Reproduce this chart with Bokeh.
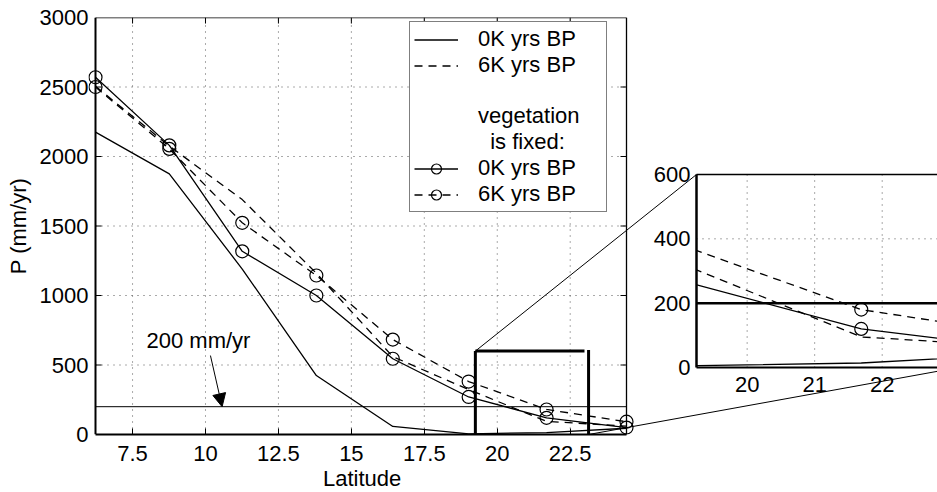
import numpy as np
from bokeh.plotting import figure
from bokeh.models import (Range1d, LinearAxis, FixedTicker, Legend, LegendItem,
                          Arrow, NormalHead, Label, Title)
from bokeh.core.properties import value
from bokeh.embed import file_html
from bokeh.resources import INLINE

# ---------------- data ----------------
lat = [6.23, 8.76, 11.26, 13.80, 16.42, 19.02, 21.69, 24.43]
p_0k = [2175, 1875, 1190, 424, 58, 5, 14, 45]
p_6k = [2505, 2075, 1690, 1160, 560, 323, 95, 60]
p_0k_fixed = [2570, 2080, 1318, 1000, 545, 270, 120, 50]
p_6k_fixed = [2500, 2055, 1523, 1144, 683, 381, 180, 92]
threshold = 200

x_ticks = [7.5, 10, 12.5, 15, 17.5, 20, 22.5]
x_tick_labels = ["7.5", "10", "12.5", "15", "17.5", "20", "22.5"]
y_ticks = [0, 500, 1000, 1500, 2000, 2500, 3000]

zoom_x = (19.25, 23.13)
zoom_y = (0, 600)
inset_x_ticks = [20, 21, 22]
inset_x_labels = ["20", "21", "22"]
inset_y_ticks = [0, 200, 400, 600]
inset_y_labels = ["0", "200", "400", "600"]

# ---------------- layout (pixels) ----------------
FRAME_L, FRAME_R, FRAME_T, FRAME_B = 88, 937, 17, 434
MAIN_L, MAIN_R = 95, 626
INS_L, INS_R, INS_T, INS_B = 696, 958, 174, 367
FONT = value("Liberation Sans")
FS = "22px"

sx = (MAIN_R - MAIN_L) / (lat[-1] - lat[0])
x_start = lat[0] - (MAIN_L - FRAME_L) / sx
x_end = lat[0] + (FRAME_R - MAIN_L) / sx
ymax = y_ticks[-1]
sy = (FRAME_B - FRAME_T) / ymax

isx = (INS_R - INS_L) / (zoom_x[1] - zoom_x[0])
ix_start = zoom_x[0] - (INS_L - FRAME_L) / isx
ix_end = zoom_x[0] + (FRAME_R - INS_L) / isx
isy = (INS_B - INS_T) / (zoom_y[1] - zoom_y[0])
iy_start = zoom_y[0] - (FRAME_B - INS_B) / isy
iy_end = zoom_y[1] + (INS_T - FRAME_T) / isy

p = figure(frame_width=FRAME_R - FRAME_L, frame_height=FRAME_B - FRAME_T,
           x_range=Range1d(x_start, x_end), y_range=Range1d(0, ymax),
           x_axis_type=None, y_axis_type=None,
           output_backend="svg", toolbar_location=None,
           min_border_left=FRAME_L, min_border_right=0,
           min_border_top=FRAME_T, min_border_bottom=0)
p.outline_line_color = None
p.background_fill_color = "white"
p.border_fill_color = "white"
p.grid.visible = False
p.extra_x_ranges = {"inset": Range1d(ix_start, ix_end)}
p.extra_y_ranges = {"inset": Range1d(iy_start, iy_end)}
INS = dict(x_range_name="inset", y_range_name="inset")

# ---------------- axes ----------------
yaxis = LinearAxis(ticker=FixedTicker(ticks=y_ticks), axis_label="P (mm/yr)")
xaxis = LinearAxis(ticker=FixedTicker(ticks=x_ticks), bounds=(lat[0], lat[-1]),
                   major_label_overrides={t: l for t, l in zip(x_ticks, x_tick_labels)})
for ax in (yaxis, xaxis):
    ax.axis_line_width = 2
    ax.axis_line_color = "black"
    ax.major_tick_in = 6
    ax.major_tick_out = 0
    ax.minor_tick_line_color = None
    ax.major_tick_line_color = "black"
    ax.major_label_text_font = "Liberation Sans"
    ax.major_label_text_font_size = FS
    ax.major_label_text_color = "black"
    ax.axis_label_text_font = "Liberation Sans"
    ax.axis_label_text_font_size = FS
    ax.axis_label_text_font_style = "normal"
    ax.axis_label_text_color = "black"
# y axis panel only carries the labels; its rule is drawn at lat[0]
yaxis.axis_line_color = None
yaxis.major_tick_line_color = None
yaxis.major_tick_in = 0
yaxis.major_label_standoff = 0
yaxis.axis_label_standoff = 6
xaxis.major_label_standoff = 11
p.add_layout(yaxis, "left")
p.add_layout(xaxis, "below")

# x axis title, centred under the main axes (not under the whole frame)
title_w = 76
p.add_layout(Title(text="Latitude", align="left",
                   offset=(MAIN_L + MAIN_R) / 2 - FRAME_L - title_w / 2,
                   text_font="Liberation Sans", text_font_size=FS,
                   text_font_style="normal", text_color="black",
                   standoff=1), "below")

GRID = dict(line_color="#555555", line_width=1, line_dash="1 5")
# main grid
p.segment(x0=x_ticks, y0=0, x1=x_ticks, y1=ymax, **GRID)
p.segment(x0=lat[0], y0=y_ticks[1:-1], x1=lat[-1], y1=y_ticks[1:-1], **GRID)
# main box + inner ticks
p.segment(x0=lat[0], y0=0, x1=lat[0], y1=ymax, line_color="black", line_width=2)
p.segment(x0=lat[0], y0=ymax, x1=lat[-1], y1=ymax, line_color="black", line_width=1.3)
p.segment(x0=lat[-1], y0=0, x1=lat[-1], y1=ymax, line_color="black", line_width=1.3)
p.ray(x=lat[0], y=y_ticks[1:-1], length=6, length_units="screen", angle=0,
      line_color="black", line_width=1)
p.ray(x=lat[-1], y=y_ticks[1:-1], length=6, length_units="screen", angle=np.pi,
      line_color="black", line_width=1)
p.ray(x=x_ticks, y=ymax, length=6, length_units="screen", angle=-np.pi / 2,
      line_color="black", line_width=1)

# threshold line
p.line([lat[0], lat[-1]], [threshold, threshold], line_color="black", line_width=1)

LW = 1.3
DASH = "8 6"
CIRC = dict(marker="circle", size=13, fill_color=None, line_color="black", line_width=1.2)
rA = p.line(lat, p_0k, line_color="black", line_width=LW)
rB = p.line(lat, p_6k, line_color="black", line_width=LW, line_dash=DASH)
rC = p.line(lat, p_0k_fixed, line_color="black", line_width=LW)
sC = p.scatter(lat, p_0k_fixed, **CIRC)
rD = p.line(lat, p_6k_fixed, line_color="black", line_width=LW, line_dash=DASH)
sD = p.scatter(lat, p_6k_fixed, **CIRC)

# annotation 200 mm/yr
p.add_layout(Label(x=9.76, y=676, text="200 mm/yr", text_align="center",
                   text_baseline="middle", text_font="Liberation Sans",
                   text_font_size=FS, text_color="black"))
p.add_layout(Arrow(x_start=10.17, y_start=568, x_end=10.57, y_end=threshold,
                   line_width=1, line_color="black",
                   end=NormalHead(size=13, fill_color="black", line_color="black")))

# zoom rectangle in main
p.segment(x0=[zoom_x[0], zoom_x[0], zoom_x[1]],
          y0=[zoom_y[0], zoom_y[1], zoom_y[0]],
          x1=[zoom_x[0], zoom_x[1] - 0.14, zoom_x[1]],
          y1=[zoom_y[1], zoom_y[1], zoom_y[1] + 8],
          line_color="black", line_width=3)

# ---------------- inset ----------------
idx = [i for i in range(len(lat)) if lat[i] >= zoom_x[0]]
idx = [idx[0] - 1] + idx
ilat = [lat[i] for i in idx]
p.segment(x0=inset_x_ticks, y0=zoom_y[0], x1=inset_x_ticks, y1=zoom_y[1], **GRID, **INS)
p.segment(x0=zoom_x[0], y0=inset_y_ticks[1:-1], x1=zoom_x[1], y1=inset_y_ticks[1:-1], **GRID, **INS)
p.line(ilat, [p_0k[i] for i in idx], line_color="black", line_width=LW, **INS)
p.line(ilat, [p_6k[i] for i in idx], line_color="black", line_width=LW, line_dash=DASH, **INS)
p.line(ilat, [p_0k_fixed[i] for i in idx], line_color="black", line_width=LW, **INS)
p.scatter(ilat, [p_0k_fixed[i] for i in idx], **CIRC, **INS)
p.line(ilat, [p_6k_fixed[i] for i in idx], line_color="black", line_width=LW, line_dash=DASH, **INS)
p.scatter(ilat, [p_6k_fixed[i] for i in idx], **CIRC, **INS)
# mask outside inset (left side)
p.quad(left=zoom_x[0] - 0.6, right=zoom_x[0], bottom=zoom_y[0] - 30, top=zoom_y[1],
       fill_color="white", line_color=None, **INS)
# inset threshold + borders
p.segment(x0=zoom_x[0], y0=threshold, x1=zoom_x[1], y1=threshold,
          line_color="black", line_width=2.5, **INS)
p.segment(x0=zoom_x[0], y0=zoom_y[0], x1=zoom_x[0], y1=zoom_y[1],
          line_color="black", line_width=2.5, **INS)
p.segment(x0=zoom_x[0], y0=zoom_y[0], x1=zoom_x[1], y1=zoom_y[0],
          line_color="black", line_width=2, **INS)
p.segment(x0=zoom_x[0], y0=zoom_y[1], x1=zoom_x[1], y1=zoom_y[1],
          line_color="black", line_width=1.5, **INS)
p.text(x=inset_x_ticks, y=zoom_y[0], text=inset_x_labels, y_offset=9,
       text_align="center", text_baseline="top", text_font=FONT,
       text_font_size=FS, text_color="black", **INS)
p.text(x=zoom_x[0], y=inset_y_ticks, text=inset_y_labels, x_offset=-6,
       text_align="right", text_baseline="middle", text_font=FONT,
       text_font_size=FS, text_color="black", **INS)

# connectors (main coords)
def ins_to_main(xv, yv):
    px = INS_L + (xv - zoom_x[0]) * isx
    py = INS_B - (yv - zoom_y[0]) * isy
    return x_start + (px - FRAME_L) / sx, (FRAME_B - py) / sy

c1 = ins_to_main(zoom_x[0], zoom_y[1])
c2 = ins_to_main(zoom_x[1], zoom_y[0])
p.segment(x0=[zoom_x[0], zoom_x[1]], y0=[zoom_y[1], zoom_y[0]],
          x1=[c1[0], c2[0]], y1=[c1[1], c2[1]], line_color="black", line_width=1)

# ---------------- legend ----------------
blank = p.line([lat[0]], [0], line_alpha=0)
legend = Legend(items=[
    LegendItem(label="0K yrs BP", renderers=[rA]),
    LegendItem(label="6K yrs BP", renderers=[rB]),
    LegendItem(label=" ", renderers=[blank]),
    LegendItem(label="vegetation", renderers=[blank]),
    LegendItem(label="\u00a0\u00a0is fixed:", renderers=[blank]),
    LegendItem(label="0K yrs BP", renderers=[rC, sC]),
    LegendItem(label="6K yrs BP", renderers=[rD, sD]),
], location=(409 - FRAME_L, FRAME_B - 212))
legend.label_text_font = "Liberation Sans"
legend.label_text_font_size = FS
legend.label_text_color = "black"
legend.border_line_color = "black"
legend.border_line_width = 1.3
legend.background_fill_color = "white"
legend.background_fill_alpha = 1
legend.padding = 4
legend.spacing = 0
legend.margin = 0
legend.glyph_height = 25
legend.label_height = 25
legend.glyph_width = 44
legend.label_standoff = 20
legend.label_width = 124
p.add_layout(legend)

open("out.html", "w").write(file_html(p, INLINE))
